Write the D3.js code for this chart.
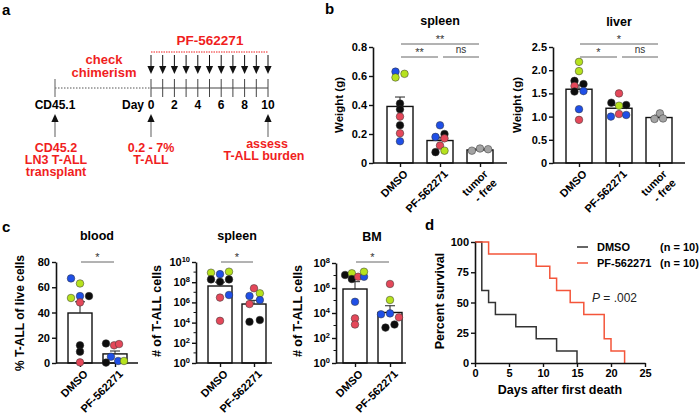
<!DOCTYPE html>
<html><head><meta charset="utf-8">
<script src="https://cdn.jsdelivr.net/npm/d3@7"></script>
<style>
body{margin:0;background:#fff;}
svg{font-family:"Liberation Sans",Arial,Helvetica,sans-serif;}
</style></head><body>
<svg id="fig" width="700" height="416"></svg>
<script>
// ================= DATA =================
// Panel a: treatment timeline
const timelineDays = [0,1,2,3,4,5,6,7,8,9,10];
const timelineTickLabels = [0,2,4,6,8,10];

// Panel b: organ weights
const bCategories = ["DMSO", "PF-562271", "tumor\n- free"];
const spleenMean  = [0.39, 0.155, 0.09];
const spleenUpper = [0.455, 0.178, 0.097];
const spleenValues = [
  [0.63, 0.615, 0.59, 0.41, 0.37, 0.32, 0.26, 0.205, 0.15],
  [0.26, 0.20, 0.18, 0.17, 0.12, 0.085, 0.075],
  [0.085, 0.10, 0.095]
];
const spleenMice = [
  ["b","g","g","k","k","r","k","r","b"],
  ["b","k","b","r","r","g","k"],
  ["x","x","x"]
];
const spleenTicks = [0, 0.2, 0.4, 0.6, 0.8];
const spleenSig = ["**", "**", "ns"];

const liverMean  = [1.59, 1.18, 0.98];
const liverUpper = [1.68, 1.24, 1.03];
const liverValues = [
  [2.18, 1.98, 1.77, 1.70, 1.66, 1.55, 1.54, 1.16, 0.93],
  [1.50, 1.30, 1.25, 1.235, 1.055, 1.00, 1.035],
  [1.07, 0.95, 0.96]
];
const liverMice = [
  ["g","g","k","k","r","b","k","b","r"],
  ["r","k","k","g","r","b","b"],
  ["x","x","x"]
];
const liverTicks = [0, 0.5, 1.0, 1.5, 2.0, 2.5];
const liverSig = ["*", "*", "ns"];

// Panel c: T-ALL burden
const cCategories = ["DMSO", "PF-562271"];
const bloodMean  = [39.6, 7.2];
const bloodUpper = [48.5, 9.5];
const bloodValues = [[67, 63, 53, 53, 51.5, 48, 14, 9, 0.5], [15.5, 14, 15, 5, 0.3, 1.6, 1.6]];
const bloodMice = [["b","g","b","k","g","r","k","k","r"], ["k","r","r","b","k","b","g"]];
const bloodTicks = [0, 20, 40, 60, 80];

const cSpleenMean  = [4.2e7, 6.9e5];
const cSpleenUpper = [1.0e8, 1.6e6];
const cSpleenValues = [[8.7e8, 6.3e8, 1.1e9, 1.9e8, 1.1e8, 1.9e8, 5.4e6, 3.0e6, 1.5e4], [2.5e7, 7.9e6, 4.3e6, 1.7e6, 6.9e5, 1.2e4, 1.8e4]];
const cSpleenMice = [["g","b","g","k","k","k","b","r","r"], ["r","g","b","b","r","k","k"]];
const cSpleenTicks = [1, 1e2, 1e4, 1e6, 1e8, 1e10];

const bmMean  = [8.3e5, 1.1e4];
const bmUpper = [3.2e6, 3.8e4];
const bmValues = [[1.1e7, 1.5e7, 5.2e6, 7.9e6, 7.9e6, 2.0e7, 7.9e4, 3.7e3, 1.2e3], [2.1e6, 1.1e5, 7.9e3, 9.3e3, 4.5e3, 6.8e2, 1.2e3]];
const bmMice = [["k","g","k","r","b","g","b","r","r"], ["r","g","b","b","r","k","k"]];
const bmTicks = [1, 1e2, 1e4, 1e6, 1e8];

// Panel d: survival
const dmsoDays = [0, 1, 2, 3, 6, 9, 12, 15];
const dmsoSurvival = [100, 60, 50, 40, 30, 20, 10, 0];
const pfDays = [0, 2, 9, 11, 12, 14, 16, 19, 20, 22];
const pfSurvival = [100, 90, 80, 70, 60, 50, 40, 20, 10, 0];
const survivalYTicks = [0, 25, 50, 75, 100];
const survivalXTicks = [0, 5, 10, 15, 20, 25];
const survivalLegend = [["DMSO", "(n = 10)"], ["PF-562271", "(n = 10)"]];

// ================= LAYOUT / STYLE =================
const RED = "#f01e1e";
const mouseColor = d3.scaleOrdinal().domain(["b","g","r","k","x"])
  .range(["#1f4fe6", "#b6e21e", "#e4485a", "#0d0d0d", "#a3a3a3"]);
const JIT = 4.5;
const spleenJitter = [[-1,1,-1,0,0,0,0,0,0],[0,1,-1,1,0,1,-1],[-1.8,0,1.8]];
const liverJitter  = [[0,0,-1,1,-1,1,-1,0,0],[0,-1.7,1.6,0,0,-1.8,1.6],[0.2,-1,0.9]];
const bloodJitter  = [[-2,0,0,2,-2,0,0,0,0],[-2,-0.2,0.9,-0.9,-2,0.7,2]];
const cSpleenJitter= [[-2,0,2,-2,0,2,2,0,0],[0,1.3,-1,1.3,-1,-1,1.3]];
const bmJitter     = [[-2.2,-0.7,-0.7,0.7,2,2,0,0,0],[0,0,-2,0,2,-1,1]];

const svg = d3.select("#fig");

function text(g, x, y, s, o = {}) {
  const t = g.append("text").attr("x", x).attr("y", y).text(s)
    .attr("font-size", o.size || 12)
    .attr("font-weight", o.weight || "bold")
    .attr("fill", o.fill || "#000")
    .attr("text-anchor", o.anchor || "middle");
  if (o.style) t.attr("font-style", o.style);
  return t;
}

// ---------- Panel letters ----------
text(svg, 2, 15, "a", {size: 15, anchor: "start"});
text(svg, 325, 14, "b", {size: 15, anchor: "start"});
text(svg, 2, 232, "c", {size: 15, anchor: "start"});
text(svg, 425, 230, "d", {size: 15, anchor: "start"});

// ---------- Panel a ----------
(function panelA() {
  const g = svg.append("g");
  const xd = d3.scaleLinear().domain([0, 10]).range([151, 268]);
  const xCD = 55, yLine = 88;
  g.append("line").attr("x1", xCD).attr("x2", xd(0)).attr("y1", yLine).attr("y2", yLine)
    .attr("stroke", "#555").attr("stroke-width", 1).attr("stroke-dasharray", "1.5,1.5");
  g.append("line").attr("x1", xd(0)).attr("x2", xd(10)).attr("y1", yLine).attr("y2", yLine)
    .attr("stroke", "#444").attr("stroke-width", 1);
  g.append("line").attr("x1", xCD).attr("x2", xCD).attr("y1", 79).attr("y2", 97).attr("stroke", "#777").attr("stroke-width", 1.2);
  g.selectAll("line.day").data(timelineDays).enter().append("line")
    .attr("x1", d => xd(d)).attr("x2", d => xd(d)).attr("y1", 79).attr("y2", 97)
    .attr("stroke", "#444").attr("stroke-width", 1);
  timelineDays.forEach(d => {
    const x = xd(d);
    g.append("line").attr("x1", x).attr("x2", x).attr("y1", 55).attr("y2", 67).attr("stroke", "#111").attr("stroke-width", 1);
    g.append("path").attr("d", `M${x-3.6},66 L${x+3.6},66 L${x},74 Z`).attr("fill", "#111");
  });
  g.append("line").attr("x1", xd(0)).attr("x2", xd(10)).attr("y1", 52).attr("y2", 52)
    .attr("stroke", RED).attr("stroke-width", 1).attr("stroke-dasharray", "1.5,1");
  text(g, 210, 45, "PF-562271", {size: 13.5, fill: RED});
  text(g, 104, 64, "check", {size: 13, fill: RED});
  text(g, 104, 77, "chimerism", {size: 13, fill: RED});
  text(g, xCD, 109, "CD45.1", {size: 12});
  text(g, 144, 109, "Day", {size: 12, anchor: "end"});
  timelineTickLabels.forEach(d => text(g, xd(d), 109, String(d), {size: 12}));
  [xCD, xd(0), xd(10)].forEach(x => {
    g.append("line").attr("x1", x).attr("x2", x).attr("y1", 120).attr("y2", 137).attr("stroke", "#777").attr("stroke-width", 1.2);
    g.append("path").attr("d", `M${x-3.6},122 L${x+3.6},122 L${x},114 Z`).attr("fill", "#111");
  });
  text(g, 56, 152, "CD45.2", {size: 12.5, fill: RED});
  text(g, 56, 164, "LN3 T-ALL", {size: 12.5, fill: RED});
  text(g, 56, 176, "transplant", {size: 12.5, fill: RED});
  text(g, 151, 152, "0.2 - 7%", {size: 12.5, fill: RED});
  text(g, 151, 164, "T-ALL", {size: 12.5, fill: RED});
  text(g, 267, 148, "assess", {size: 12.5, fill: RED});
  text(g, 264, 160, "T-ALL burden", {size: 12.5, fill: RED});
})();

// ---------- Generic bar + dot panel ----------
function barPanel(c) {
  const g = svg.append("g");
  const y = (c.log ? d3.scaleLog() : d3.scaleLinear()).domain(c.domain).range([c.y0, c.y1]);
  const x = d3.scalePoint().domain(c.cats).range([c.firstX, c.lastX]);
  const base = c.y0;
  g.selectAll("rect").data(c.cats).enter().append("rect")
    .attr("x", d => x(d) - c.bw / 2).attr("width", c.bw)
    .attr("y", (d, i) => y(c.mean[i])).attr("height", (d, i) => base - y(c.mean[i]))
    .attr("fill", "#fff").attr("stroke", "#111").attr("stroke-width", 1.4);
  c.cats.forEach((d, i) => {
    const cx = x(d);
    g.append("line").attr("x1", cx).attr("x2", cx).attr("y1", y(c.mean[i])).attr("y2", y(c.upper[i]))
      .attr("stroke", "#222").attr("stroke-width", 1);
    g.append("line").attr("x1", cx - 5).attr("x2", cx + 5).attr("y1", y(c.upper[i])).attr("y2", y(c.upper[i]))
      .attr("stroke", "#222").attr("stroke-width", 1);
  });
  g.append("line").attr("x1", c.axisX).attr("x2", c.endX).attr("y1", base).attr("y2", base)
    .attr("stroke", "#111").attr("stroke-width", 1.6);
  const xa = d3.axisBottom(x).tickSize(4).tickSizeOuter(0).tickFormat("");
  g.append("g").attr("transform", `translate(0,${base})`).call(xa)
    .call(s => s.select(".domain").remove())
    .call(s => s.selectAll("line").attr("stroke", "#111").attr("stroke-width", 1.4));
  const ya = d3.axisLeft(y).tickValues(c.ticks).tickSize(4).tickSizeOuter(0).tickPadding(2)
    .tickFormat(c.fmt || (d => d));
  const yg = g.append("g").attr("transform", `translate(${c.axisX},0)`).call(ya);
  yg.select(".domain").attr("stroke", "#111").attr("stroke-width", 1.6);
  yg.selectAll(".tick line").attr("stroke", "#111").attr("stroke-width", 1.4);
  yg.selectAll(".tick text").attr("font-size", 11).attr("font-weight", "bold").attr("fill", "#000")
    .attr("font-family", "'Liberation Sans',Arial,sans-serif");
  if (c.log) {
    yg.selectAll(".tick text").each(function(d) {
      const t = d3.select(this); t.text(null);
      t.append("tspan").text("10");
      t.append("tspan").attr("dy", "-0.5em").attr("font-size", "7.5px").text(Math.round(Math.log10(d)));
    });
    const lo = Math.log10(c.domain[0]), hi = Math.log10(c.domain[1]);
    for (let p = lo + 1; p < hi; p += 2) {
      g.append("line").attr("x1", c.axisX - 2.5).attr("x2", c.axisX).attr("y1", y(Math.pow(10, p))).attr("y2", y(Math.pow(10, p)))
        .attr("stroke", "#111").attr("stroke-width", 1);
    }
  }
  c.cats.forEach((d, i) => {
    c.values[i].forEach((v, j) => {
      g.append("circle").attr("cx", x(d) + c.jitter[i][j] * JIT).attr("cy", y(v)).attr("r", 3.8)
        .attr("fill", mouseColor(c.mice[i][j])).attr("stroke", "#333").attr("stroke-width", 0.5);
    });
  });
  // rotated (-45 deg) category labels, one text per line
  c.cats.forEach(d => {
    d.split("\n").forEach((line, k) => {
      const ox = x(d) + 3 + k * 9, oy = base + 6 + k * 9;
      g.append("text").attr("transform", `translate(${ox},${oy}) rotate(-45)`)
        .attr("x", 0).attr("y", 8)
        .attr("text-anchor", "end").attr("font-size", 11).attr("font-weight", "bold").attr("fill", "#000")
        .text(line);
    });
  });
  text(g, c.titleX, c.titleY, c.title, {size: 12.5});
  g.append("text").attr("transform", `translate(${c.labelX},${c.labelY}) rotate(-90)`)
    .attr("text-anchor", "middle").attr("dominant-baseline", "central")
    .attr("font-size", c.labelSize).attr("font-weight", "bold").text(c.ylabel);
  c.sig.forEach(s => {
    const x1 = x(c.cats[s.a]) + 1 + (s.gapL ? 2 : 0), x2 = x(c.cats[s.b]) - (s.gap ? 2 : 1);
    g.append("line").attr("x1", x1).attr("x2", x2).attr("y1", s.y).attr("y2", s.y)
      .attr("stroke", "#666").attr("stroke-width", 1);
    text(g, (x1 + x2) / 2, s.y - (s.t === "ns" ? 4 : 1.5), s.t, {size: s.t === "ns" ? 10 : 11, weight: "normal", fill: "#333"});
  });
  return g;
}

const fmtDec1 = d => d === 0 ? "0" : d3.format(".1f")(d);

barPanel({cats: bCategories, mean: spleenMean, upper: spleenUpper, values: spleenValues, mice: spleenMice, jitter: spleenJitter,
  domain: [0, 0.8], y0: 163, y1: 47, axisX: 373, endX: 507, firstX: 400, lastX: 480, bw: 26, ticks: spleenTicks, fmt: fmtDec1,
  title: "spleen", titleX: 440, titleY: 25, ylabel: "Weight (g)", labelX: 339, labelY: 105, labelSize: 11.5,
  sig: [{a:0,b:2,y:44,t:spleenSig[0]},{a:0,b:1,y:57,t:spleenSig[1],gap:1},{a:1,b:2,y:57,t:spleenSig[2],gapL:1}]});
barPanel({cats: bCategories, mean: liverMean, upper: liverUpper, values: liverValues, mice: liverMice, jitter: liverJitter,
  domain: [0, 2.5], y0: 163, y1: 47, axisX: 553, endX: 685, firstX: 579, lastX: 659, bw: 26, ticks: liverTicks, fmt: fmtDec1,
  title: "liver", titleX: 619, titleY: 26, ylabel: "Weight (g)", labelX: 517, labelY: 105, labelSize: 11.5,
  sig: [{a:0,b:2,y:44,t:liverSig[0]},{a:0,b:1,y:57,t:liverSig[1],gap:1},{a:1,b:2,y:57,t:liverSig[2],gapL:1}]});
barPanel({cats: cCategories, mean: bloodMean, upper: bloodUpper, values: bloodValues, mice: bloodMice, jitter: bloodJitter,
  domain: [0, 80], y0: 363, y1: 262, axisX: 56, endX: 138, firstX: 80, lastX: 115, bw: 24, ticks: bloodTicks,
  title: "blood", titleX: 97, titleY: 240, ylabel: "% T-ALL of live cells", labelX: 20, labelY: 313, labelSize: 12,
  sig: [{a:0,b:1,y:262,t:"*"}]});
barPanel({cats: cCategories, mean: cSpleenMean, upper: cSpleenUpper, values: cSpleenValues, mice: cSpleenMice, jitter: cSpleenJitter,
  log: true, domain: [1, 1e10], y0: 363, y1: 262, axisX: 196, endX: 272, firstX: 220, lastX: 254, bw: 24, ticks: cSpleenTicks,
  title: "spleen", titleX: 237, titleY: 240, ylabel: "# of T-ALL cells", labelX: 157, labelY: 311, labelSize: 12.5,
  sig: [{a:0,b:1,y:262,t:"*"}]});
barPanel({cats: cCategories, mean: bmMean, upper: bmUpper, values: bmValues, mice: bmMice, jitter: bmJitter,
  log: true, domain: [1, 1e8], y0: 363, y1: 263, axisX: 336, endX: 406, firstX: 355, lastX: 390, bw: 24, ticks: bmTicks,
  title: "BM", titleX: 372, titleY: 241, ylabel: "# of T-ALL cells", labelX: 298, labelY: 311, labelSize: 12.5,
  sig: [{a:0,b:1,y:262,t:"*"}]});

// ---------- Panel d ----------
(function panelD() {
  const g = svg.append("g");
  const x = d3.scaleLinear().domain([0, 25]).range([475, 645]);
  const y = d3.scaleLinear().domain([0, 100]).range([363, 242]);
  const line = d3.line().x(d => x(d[0])).y(d => y(d[1])).curve(d3.curveStepAfter);
  g.append("path").attr("d", line(dmsoDays.map((d, i) => [d, dmsoSurvival[i]])))
    .attr("fill", "none").attr("stroke", "#333").attr("stroke-width", 1.5);
  g.append("path").attr("d", line(pfDays.map((d, i) => [d, pfSurvival[i]])))
    .attr("fill", "none").attr("stroke", "#f4553a").attr("stroke-width", 1.5);
  const xa = g.append("g").attr("transform", "translate(0,363)")
    .call(d3.axisBottom(x).tickValues(survivalXTicks).tickSize(4).tickSizeOuter(0).tickPadding(2));
  const ya = g.append("g").attr("transform", "translate(475,0)")
    .call(d3.axisLeft(y).tickValues(survivalYTicks).tickSize(4).tickSizeOuter(0).tickPadding(2));
  [xa, ya].forEach(a => {
    a.select(".domain").attr("stroke", "#111").attr("stroke-width", 1.6);
    a.selectAll(".tick line").attr("stroke", "#111").attr("stroke-width", 1.4);
    a.selectAll(".tick text").attr("font-size", 11).attr("font-weight", "bold").attr("fill", "#000")
      .attr("font-family", "'Liberation Sans',Arial,sans-serif");
  });
  text(g, 560, 394, "Days after first death", {size: 12.5});
  g.append("text").attr("transform", "translate(440,301) rotate(-90)")
    .attr("text-anchor", "middle").attr("dominant-baseline", "central")
    .attr("font-size", 12.5).attr("font-weight", "bold").text("Percent survival");
  const colors = ["#333", "#f4553a"];
  survivalLegend.forEach((l, i) => {
    const yy = 247 + i * 16;
    g.append("line").attr("x1", 577).attr("x2", 588).attr("y1", yy).attr("y2", yy).attr("stroke", colors[i]).attr("stroke-width", 1.5);
    text(g, 597, yy + 4, l[0], {size: 11, anchor: "start"});
    text(g, 660, yy + 4, l[1], {size: 11, anchor: "start"});
  });
  const p = g.append("text").attr("x", 592).attr("y", 302).attr("font-size", 12).attr("fill", "#222");
  p.append("tspan").attr("font-style", "italic").text("P");
  p.append("tspan").text(" = .002");
})();
</script>
</body></html>
